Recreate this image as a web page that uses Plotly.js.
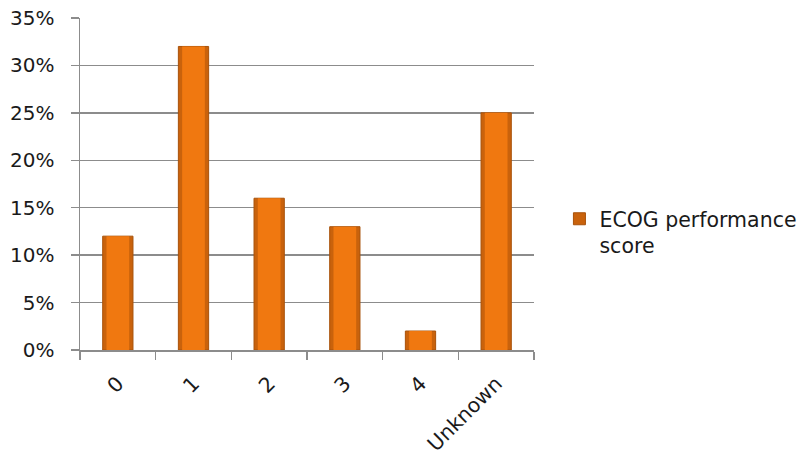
<!DOCTYPE html>
<html>
<head>
<meta charset="utf-8">
<script src="https://cdn.plot.ly/plotly-3.0.1.min.js"></script>
<style>
  html, body { margin: 0; padding: 0; background: #ffffff; }
  #chart { width: 809px; height: 458px; }
</style>
</head>
<body>
<div id="chart"></div>
<script>
// ECOG performance score distribution
const categories = ['0', '1', '2', '3', '4', 'Unknown'];
const shares = [0.12, 0.32, 0.16, 0.13, 0.02, 0.25];
const seriesName = 'ECOG performance<br>score';

const FONT = 'DejaVu Sans, sans-serif';
const TEXT = '#1a1a1a';
const AXIS = '#8c8c8c';

// Outer darker body of each bar (gives the bevelled edge)
const outer = {
  type: 'bar',
  x: categories,
  y: shares,
  name: seriesName,
  width: 0.4,
  marker: { color: '#C9620C', line: { color: '#A8520A', width: 1 } },
  showlegend: true,
  hoverinfo: 'x+y'
};

// Brighter face of each bar
const inner = {
  type: 'bar',
  x: categories,
  y: shares,
  width: 0.3,
  marker: { color: '#F07810', line: { width: 0 } },
  showlegend: false,
  hoverinfo: 'skip'
};

const layout = {
  width: 809,
  height: 458,
  margin: { l: 80, r: 275, t: 18, b: 108, autoexpand: false },
  paper_bgcolor: '#ffffff',
  plot_bgcolor: '#ffffff',
  barmode: 'overlay',
  font: { family: FONT, size: 20.5, color: TEXT },
  xaxis: {
    type: 'category',
    tickangle: -45,
    tickson: 'boundaries',
    ticks: 'outside',
    ticklen: 8,
    tickcolor: AXIS,
    tickwidth: 1.5,
    ticklabelstandoff: 12,
    showline: true,
    linecolor: AXIS,
    linewidth: 1.5,
    showgrid: false,
    tickfont: { family: FONT, size: 20.5, color: TEXT }
  },
  yaxis: {
    range: [0, 0.35],
    dtick: 0.05,
    tickformat: '.0%',
    ticks: 'outside',
    ticklen: 8,
    tickcolor: AXIS,
    tickwidth: 1.5,
    ticklabelstandoff: 12,
    showline: true,
    linecolor: AXIS,
    linewidth: 1.5,
    showgrid: true,
    gridcolor: AXIS,
    gridwidth: 1.5,
    zeroline: false,
    tickfont: { family: FONT, size: 20, color: TEXT }
  },
  legend: {
    x: 1.056,
    xanchor: 'left',
    y: 0.455,
    yanchor: 'top',
    valign: 'top',
    font: { family: FONT, size: 20.5, color: TEXT },
    bgcolor: 'rgba(0,0,0,0)'
  },
  showlegend: true
};

Plotly.newPlot('chart', [outer, inner], layout, { displayModeBar: false, staticPlot: true });
</script>
</body>
</html>
